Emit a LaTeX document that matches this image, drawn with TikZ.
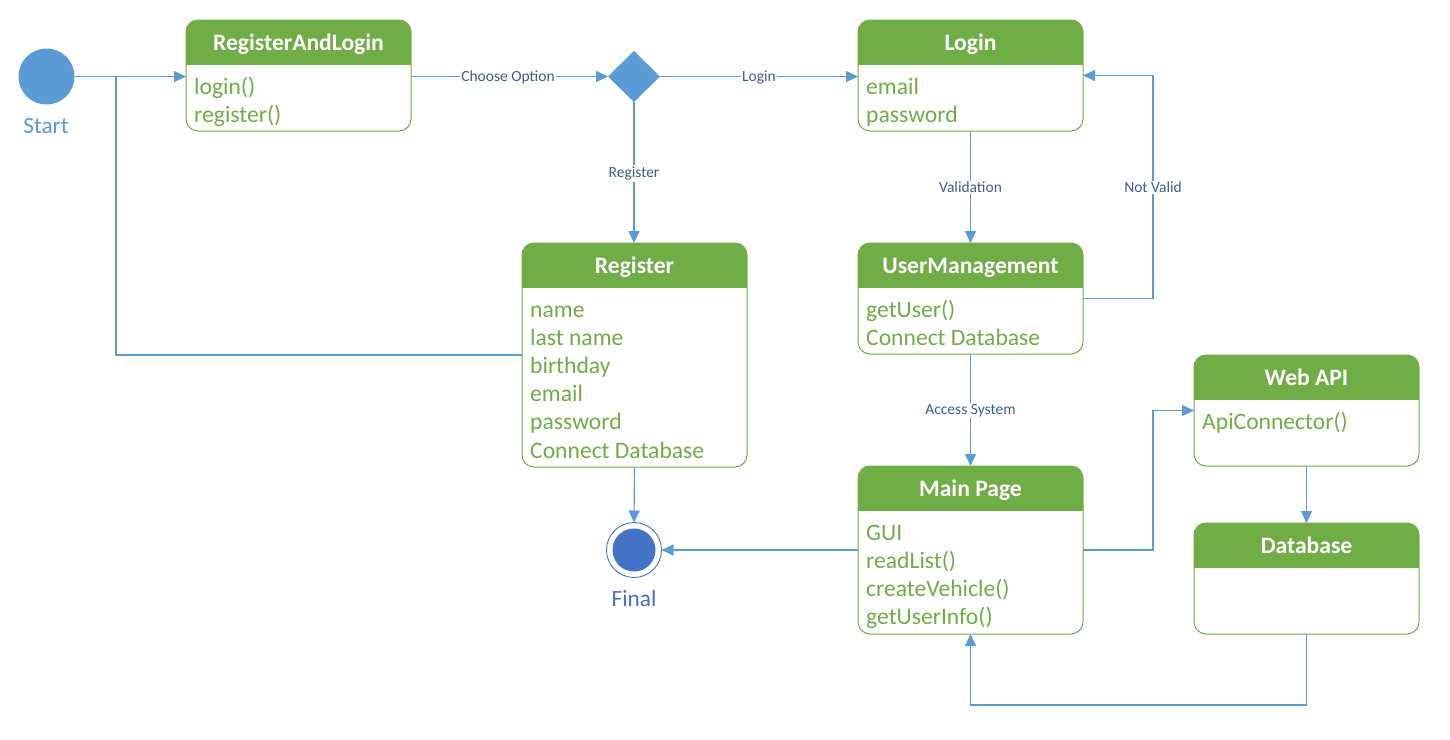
\documentclass[tikz,border=0pt]{standalone}
\usepackage{fontspec}
\setmainfont{Carlito}
\usetikzlibrary{arrows.meta,shapes.geometric}

\definecolor{hdrgreen}{HTML}{70AD47}
\definecolor{flowblue}{HTML}{5B9BD5}
\definecolor{endblue}{HTML}{4472C4}
\definecolor{labelink}{HTML}{3E5F8A}

\tikzset{
  umlframe/.style={rectangle, draw=none, inner sep=0pt, outer sep=0pt},
  titletext/.style={text=white, font=\fontsize{23.6}{27}\selectfont\bfseries, anchor=base, inner sep=0pt},
  bodytext/.style={text=hdrgreen, font=\fontsize{23.6}{27}\selectfont, anchor=base west, inner sep=0pt},
  flow/.style={draw=flowblue, line width=1.15pt, -{Triangle[length=12pt,width=11pt]}},
  plainflow/.style={draw=flowblue, line width=1.15pt},
  edgelabel/.style={fill=white, text=labelink, font=\fontsize{15.5}{18}\selectfont, inner sep=1.5pt},
  captiontext/.style={font=\fontsize{23.3}{27}\selectfont, anchor=base, inner sep=0pt},
}

% class box: name, left x, top y, width, height, title
\newcommand{\umlbox}[6]{%
  \node[umlframe, minimum width=#4pt, minimum height=#5pt, anchor=north west] (#1) at (#2,#3) {};
  \fill[white, rounded corners=12pt] (#1.north west) rectangle (#1.south east);
  \begin{scope}
    \clip[rounded corners=12pt] (#1.north west) rectangle (#1.south east);
    \fill[hdrgreen] (#1.north west) rectangle ([yshift=-45pt]#1.north east);
  \end{scope}
  \draw[hdrgreen, line width=1pt, rounded corners=12pt] (#1.north west) rectangle (#1.south east);
  \node[titletext] (#1-title) at ([yshift=-30pt]#1.north) {#6};
}
\newcommand{\bodyline}[4]{\node[bodytext] (#1) at (#2,#3) {#4};}

\begin{document}
\begin{tikzpicture}[x=1pt, y=-1pt]
  \fill[white] (0,0) rectangle (1450,739);
  \useasboundingbox (0,0) rectangle (1450,739);

  % boxes
  \umlbox{ral}{186}{20}{225}{111}{RegisterAndLogin}
  \bodyline{ral-a}{194}{94}{login()}
  \bodyline{ral-b}{194}{122.2}{register()}

  \umlbox{login}{858}{20}{225}{111}{Login}
  \bodyline{login-a}{866}{94}{email}
  \bodyline{login-b}{866}{122.2}{password}

  \umlbox{reg}{522}{243}{225}{224}{Register}
  \bodyline{reg-a}{530}{317}{name}
  \bodyline{reg-b}{530}{345.2}{last name}
  \bodyline{reg-c}{530}{373.4}{birthday}
  \bodyline{reg-d}{530}{401.6}{email}
  \bodyline{reg-e}{530}{429.8}{password}
  \bodyline{reg-f}{530}{458}{Connect Database}

  \umlbox{um}{858}{243}{225}{111}{UserManagement}
  \bodyline{um-a}{866}{317}{getUser()}
  \bodyline{um-b}{866}{345.2}{Connect Database}

  \umlbox{main}{858}{466}{225}{168}{Main Page}
  \bodyline{main-a}{866}{540}{GUI}
  \bodyline{main-b}{866}{568.2}{readList()}
  \bodyline{main-c}{866}{596.4}{createVehicle()}
  \bodyline{main-d}{866}{624.6}{getUserInfo()}

  \umlbox{api}{1194}{355}{225}{111}{Web API}
  \bodyline{api-a}{1202}{429}{ApiConnector()}

  \umlbox{db}{1194}{523}{225}{111}{Database}

  % start, decision and final nodes
  \node[circle, fill=flowblue, minimum size=56pt, inner sep=0pt, outer sep=0pt] (start) at (46.5,76.5) {};
  \node[captiontext, text=flowblue] (start-text) at (46,133) {Start};

  \node[diamond, fill=flowblue, minimum width=52pt, minimum height=51pt, inner sep=0pt, outer sep=0pt] (choice) at (634,76.5) {};

  \node[circle, draw=endblue, line width=0.9pt, minimum size=55pt, inner sep=0pt, outer sep=0pt] (final) at (634,550) {};
  \fill[endblue] (final.center) circle (21.5);
  \node[captiontext, text=endblue] (final-text) at (634,606) {Final};

  % connectors
  \coordinate (jn) at (116,76.5);
  \draw[plainflow] (reg.west) -| (jn);
  \draw[flow] (start.east) -- (start.east -| ral.west);

  \draw[flow] (choice.west -| ral.east) -- (choice.west);
  \node[edgelabel] (lbl-choose) at (508,77) {Choose Option};

  \draw[flow] (choice.east) -- (choice.east -| login.west);
  \node[edgelabel] (lbl-login) at (759,77) {Login};

  \draw[flow] (choice.south) -- (choice.south |- reg.north);
  \node[edgelabel] (lbl-register) at (634,173.5) {Register};

  \draw[flow] (login.south) -- (um.north);
  \node[edgelabel] (lbl-valid) at (970.5,187.5) {Validation};

  \draw[flow] (um.east) -| ([xshift=70pt]login.east) -- (login.east);
  \node[edgelabel] (lbl-notvalid) at (1153,187.5) {Not Valid};

  \draw[flow] (um.south) -- (main.north);
  \node[edgelabel] (lbl-access) at (970.5,410.5) {Access System};

  \draw[flow] (main.west) -- (final.east);
  \draw[flow] (reg.south) -- (final.north);

  \draw[flow] (main.east) -| ([xshift=-41pt]api.west) -- (api.west);
  \draw[flow] (api.south) -- (db.north);
  \draw[flow] (db.south) -- ++(0,71) -| (main.south);
\end{tikzpicture}
\end{document}
